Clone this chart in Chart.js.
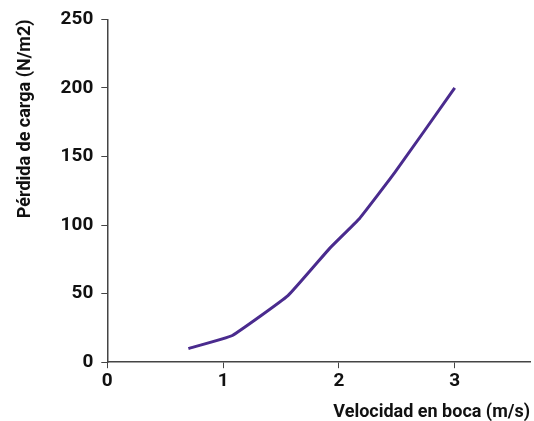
<!DOCTYPE html>
<html>
<head>
<meta charset="utf-8">
<script src="https://cdn.jsdelivr.net/npm/chart.js@4/dist/chart.umd.min.js"></script>
<style>
  html, body { margin: 0; padding: 0; background: #fff; }
  #wrap { width: 534px; height: 421px; }
</style>
</head>
<body>
<div id="wrap"><canvas id="myChart"></canvas></div>
<script>
var velocidad = [0.7, 1.08, 1.56, 1.92, 2.18, 2.48, 3.0];
var perdida = [10, 19.5, 48.5, 83, 105, 138, 200];
var xTicks = [0, 1, 2, 3];
var yTicks = [0, 50, 100, 150, 200, 250];

var axisColor = "#444";
var fontFam = "Roboto, 'Liberation Sans', sans-serif";

var points = [];
for (var i = 0; i < velocidad.length; i++) {
  points.push({x: velocidad[i], y: perdida[i]});
}

new Chart("myChart", {
  type: "scatter",
  data: {
    datasets: [{
      data: points,
      showLine: true,
      borderColor: "#4a2b8e",
      borderWidth: 3,
      pointRadius: 0,
      tension: 0.1
    }]
  },
  options: {
    responsive: true,
    maintainAspectRatio: false,
    animation: false,
    layout: {padding: {top: 10, right: 4, left: 15, bottom: 0}},
    plugins: {legend: {display: false}, tooltip: {enabled: false}},
    scales: {
      x: {
        type: "linear",
        min: 0,
        max: 3.65,
        afterBuildTicks: function(scale) {
          scale.ticks = xTicks.map(function(v){ return {value: v}; });
        },
        grid: {drawOnChartArea: false, drawTicks: true, tickLength: 6, color: axisColor},
        border: {color: axisColor, width: 1.5},
        ticks: {color: "#111", padding: 2, font: {family: fontFam, size: 19, weight: "bold"}},
        title: {
          display: true,
          text: "Velocidad en boca (m/s)",
          align: "end",
          color: "#111",
          padding: {top: 8, bottom: 0},
          font: {family: fontFam, size: 18, weight: "bold", lineHeight: 1.0}
        }
      },
      y: {
        min: 0,
        max: 250,
        afterBuildTicks: function(scale) {
          scale.ticks = yTicks.map(function(v){ return {value: v}; });
        },
        grid: {drawOnChartArea: false, drawTicks: true, tickLength: 6, color: axisColor},
        border: {color: axisColor, width: 1.5},
        ticks: {color: "#111", padding: 8, font: {family: fontFam, size: 19, weight: "bold"}},
        title: {
          display: true,
          text: "Pérdida de carga (N/m2)",
          align: "end",
          color: "#111",
          padding: {top: 0, bottom: 16},
          font: {family: fontFam, size: 18, weight: "bold"}
        }
      }
    }
  }
});
</script>
</body>
</html>
